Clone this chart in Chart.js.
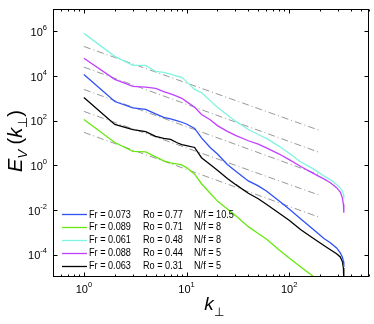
<!DOCTYPE html>
<html lang="en">
<head>
<meta charset="UTF-8">
<title>E_V(k_perp) spectra</title>
<script src="https://cdn.jsdelivr.net/npm/chart.js"></script>
<style>
  html, body { margin: 0; padding: 0; background: #fff; }
  canvas { display: block; }
</style>
</head>
<body>
<canvas id="spec" width="374" height="324"></canvas>
<script>
// wavenumbers k_perp (shared by four runs; the green run leaves the plot earlier)
const kAll = [1, 2, 3, 4, 5, 6, 7, 8, 9, 10, 12, 14, 17, 20, 25, 30, 40, 50, 60, 80, 100, 130, 170, 220, 250, 290, 315, 330, 338, 341];
const kGreen = [1, 2, 3, 4, 5, 6, 7, 8, 9, 10, 12, 14, 17, 20, 25, 30, 40, 50, 60, 80, 100, 130, 170, 200];

// spectra
const eBlue = [1.17e4, 720, 370, 320, 200, 140, 120, 100, 85, 71, 45, 17, 6.3, 3.2, 1.1, 0.56, 0.2, 0.12, 0.071, 0.025, 0.011, 4.0e-3, 1.4e-3, 5.2e-4, 3.5e-4, 2.0e-4, 1.2e-4, 7.9e-5, 5.0e-5, 2.8e-5];
const eGreen = [112, 10.5, 4.2, 4.0, 2.4, 1.6, 1.3, 1.15, 1.05, 0.79, 0.4, 0.15, 0.056, 0.025, 0.011, 5.6e-3, 1.8e-3, 8.9e-4, 5.0e-4, 1.6e-4, 7.1e-5, 2.8e-5, 1.1e-5, 6.3e-6];
const eCyan = [8.1e5, 7.6e4, 3.0e4, 3.0e4, 1.6e4, 1.45e4, 1.2e4, 1.0e4, 8.7e3, 5.6e3, 2.5e3, 1.8e3, 790, 400, 180, 95, 40, 24, 16, 7.1, 3.5, 1.4, 0.71, 0.33, 0.23, 0.14, 0.095, 0.071, 0.05, 0.032];
const eMagenta = [6.2e4, 7.1e3, 3.4e3, 3.2e3, 2.8e3, 2.0e3, 1.6e3, 1.26e3, 1.0e3, 710, 400, 190, 110, 60, 33, 22, 12.6, 8.9, 6.0, 3.2, 1.8, 0.89, 0.45, 0.24, 0.17, 0.1, 0.063, 0.035, 0.018, 7.6e-3];
const eBlack = [1.1e3, 68, 40, 32, 20, 16, 14.5, 10.5, 8.5, 7.6, 6.3, 2.2, 1.1, 0.6, 0.26, 0.14, 0.056, 0.032, 0.018, 7.1e-3, 3.5e-3, 1.3e-3, 5.6e-4, 2.5e-4, 1.7e-4, 1.1e-4, 7.9e-5, 5.0e-5, 2.5e-5, 8e-6];

// k^-5/3 guide lines: end points at k = 1 and k = 200
const kRef = [1, 200];
const refStart = [2.1e5, 2.5e4, 2.5e3, 260, 30];
const refEnd = [36, 3.7, 0.37, 0.045, 4.6e-3];

// legend text
const runFr = ['Fr = 0.073', 'Fr = 0.089', 'Fr = 0.061', 'Fr = 0.088', 'Fr = 0.063'];
const runRo = ['Ro = 0.77', 'Ro = 0.71', 'Ro = 0.48', 'Ro = 0.44', 'Ro = 0.31'];
const runNf = ['N/f = 10.5', 'N/f = 8', 'N/f = 8', 'N/f = 5', 'N/f = 5'];

// tick decades
const xDecades = [0, 1, 2];
const yDecades = [-4, -2, 0, 2, 4, 6];

const colors = ['#3050f8', '#66e810', '#80f4e0', '#c040ff', '#000000'];
const runs = [[kAll, eBlue], [kGreen, eGreen], [kAll, eCyan], [kAll, eMagenta], [kAll, eBlack]];

const datasets = [];
runs.forEach(([ks, es], i) => {
    datasets.push({
        data: ks.map((k, j) => ({ x: k, y: es[j] })),
        borderColor: colors[i],
        borderWidth: 1.3,
        pointRadius: 0,
        fill: false
    });
});
refStart.forEach((a, i) => {
    datasets.push({
        data: [{ x: kRef[0], y: a }, { x: kRef[1], y: refEnd[i] }],
        borderColor: '#8c8c8c',
        borderWidth: 0.9,
        borderDash: [7, 3, 1, 3],
        pointRadius: 0,
        fill: false
    });
});

const SANS = '"Liberation Sans", Arial, Helvetica, sans-serif';

// text with a raised/lowered piece, pieces = [[text, font, dy], ...]
function drawPieces(ctx, pieces, x, y, align) {
    let w = 0;
    pieces.forEach(p => { ctx.font = p[1]; w += ctx.measureText(p[0]).width; });
    let cx = align === 'center' ? x - w / 2 : (align === 'right' ? x - w : x);
    ctx.textAlign = 'left';
    pieces.forEach(p => {
        ctx.font = p[1];
        ctx.fillText(p[0], cx, y + p[2]);
        cx += ctx.measureText(p[0]).width;
    });
}

// legend text is condensed in the original
function narrowText(ctx, s, x, y) {
    ctx.save();
    ctx.translate(x, y);
    ctx.scale(0.83, 1);
    ctx.fillText(s, 0, 0);
    ctx.restore();
}

const axesPlugin = {
    id: 'axesPlugin',
    afterDraw(chart) {
        const ctx = chart.ctx;
        const xs = chart.scales.x, ys = chart.scales.y;
        const a = chart.chartArea;
        const L = Math.round(a.left) + 0.5, R = Math.round(a.right) - 0.5;
        const T = Math.round(a.top) + 0.5, B = Math.round(a.bottom) - 0.5;
        ctx.save();
        ctx.strokeStyle = '#000';
        ctx.lineWidth = 1;
        ctx.strokeRect(L, T, R - L, B - T);

        // x ticks, major + minor, bottom and top
        ctx.beginPath();
        for (let d = -1; d <= 2; d++) {
            for (let m = 1; m <= 9; m++) {
                const v = m * Math.pow(10, d);
                if (v < xs.min || v > xs.max) continue;
                const px = Math.round(xs.getPixelForValue(v)) + 0.5;
                const len = m === 1 ? 4 : 2;
                ctx.moveTo(px, B); ctx.lineTo(px, B - len);
                ctx.moveTo(px, T); ctx.lineTo(px, T + len);
            }
        }
        // y ticks, left and right
        yDecades.forEach(e => {
            const py = Math.round(ys.getPixelForValue(Math.pow(10, e))) + 0.5;
            ctx.moveTo(L, py); ctx.lineTo(L + 4, py);
            ctx.moveTo(R, py); ctx.lineTo(R - 4, py);
        });
        ctx.stroke();

        // tick labels
        ctx.fillStyle = '#000';
        ctx.textBaseline = 'alphabetic';
        xDecades.forEach(e => {
            const px = xs.getPixelForValue(Math.pow(10, e));
            drawPieces(ctx, [['10', '11px ' + SANS, 0], [String(e), '7.5px ' + SANS, -6]], px, 293, 'center');
        });
        yDecades.forEach(e => {
            const py = ys.getPixelForValue(Math.pow(10, e));
            const sup = e < 0 ? '-' + (-e) : String(e);
            drawPieces(ctx, [['10', '11px ' + SANS, 0], [sup, '7.5px ' + SANS, -6]], 47, py + 4.5, 'right');
        });

        // x title
        drawPieces(ctx, [['k', 'italic 19px ' + SANS, 0], ['\u22A5', '12px ' + SANS, 6]], 214, 310, 'center');

        // y title
        ctx.save();
        ctx.translate(22, 141);
        ctx.rotate(-Math.PI / 2);
        drawPieces(ctx, [
            ['E', 'italic 20px ' + SANS, 0],
            ['V', 'italic 13px ' + SANS, 5],
            [' (', '20px ' + SANS, 0],
            ['k', 'italic 20px ' + SANS, 0],
            ['\u22A5', '13px ' + SANS, 5],
            [')', '20px ' + SANS, 0]
        ], 0, 0, 'center');
        ctx.restore();

        // legend
        ctx.font = '11px ' + SANS;
        ctx.textAlign = 'left';
        ctx.textBaseline = 'middle';
        for (let i = 0; i < 5; i++) {
            const y = 214 + i * 12.9;
            ctx.strokeStyle = colors[i];
            ctx.lineWidth = 1.3;
            ctx.beginPath();
            ctx.moveTo(62, Math.round(y) + 0.5);
            ctx.lineTo(87, Math.round(y) + 0.5);
            ctx.stroke();
            narrowText(ctx, runFr[i], 89, y + 0.5);
            narrowText(ctx, runRo[i], 143, y + 0.5);
            narrowText(ctx, runNf[i], 194, y + 0.5);
        }
        ctx.restore();
    }
};

new Chart(document.getElementById('spec').getContext('2d'), {
    type: 'line',
    data: { datasets: datasets },
    options: {
        responsive: false,
        animation: false,
        parsing: true,
        layout: { padding: { left: 53, right: 5, top: 9, bottom: 47 } },
        plugins: { legend: { display: false }, tooltip: { enabled: false } },
        elements: { line: { tension: 0 } },
        scales: {
            x: { type: 'logarithmic', min: 0.5, max: 600, display: false },
            y: { type: 'logarithmic', min: 1e-5, max: 1e7, display: false }
        }
    },
    plugins: [axesPlugin]
});
</script>
</body>
</html>
